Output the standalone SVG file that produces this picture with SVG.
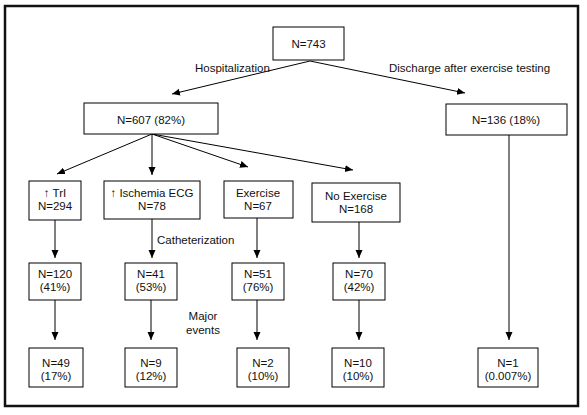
<svg xmlns="http://www.w3.org/2000/svg" width="587" height="415" viewBox="0 0 587 415">
<style>
  .box{fill:#fff;stroke:#000;stroke-width:1}
  .t{font-family:"Liberation Sans",Arial,sans-serif;font-size:11.5px;fill:#111;text-anchor:middle}
  .l{text-anchor:start}
  .c{fill:none;stroke:#000;stroke-width:1;marker-end:url(#ah)}
</style>
<defs>
  <marker id="ah" markerUnits="userSpaceOnUse" markerWidth="9" markerHeight="8" refX="8" refY="3.5" orient="auto">
    <path d="M0,0 L8,3.5 L0,7 z" fill="#000"/>
  </marker>
</defs>
<rect x="0" y="0" width="587" height="415" fill="#fff"/>
<rect x="5" y="6" width="573" height="400" fill="none" stroke="#111" stroke-width="2.5"/>

<g id="connectors">
  <path class="c" d="M310,61 L172,94"/>
  <path class="c" d="M310,61 L465,93"/>
  <path class="c" d="M152,134 L57,174"/>
  <path class="c" d="M152,134 L152,175"/>
  <path class="c" d="M152,134 L248,167"/>
  <path class="c" d="M152,134 L353,170"/>
  <path class="c" d="M55,220 L55,258"/>
  <path class="c" d="M152,219 L152,258"/>
  <path class="c" d="M257,218 L257,258"/>
  <path class="c" d="M359,222 L359,258"/>
  <path class="c" d="M55,300 L55,340"/>
  <path class="c" d="M151,300 L151,340"/>
  <path class="c" d="M257,300 L257,340"/>
  <path class="c" d="M359,300 L359,340"/>
  <path class="c" d="M509,135 L509,340"/>
  <text class="t l" x="195" y="72">Hospitalization</text>
  <text class="t l" x="389" y="72">Discharge after exercise testing</text>
  <text class="t l" x="157" y="244">Catheterization</text>
  <text class="t" x="203" y="320">Major</text>
  <text class="t" x="203" y="334">events</text>
</g>

<g id="n743"><rect class="box" x="273" y="27" width="71" height="33"/><text class="t" x="308.5" y="48">N=743</text></g>
<g id="n607"><rect class="box" x="84" y="103" width="134" height="31"/><text class="t" x="151" y="124">N=607 (82%)</text></g>
<g id="n136"><rect class="box" x="446" y="104" width="121" height="31"/><text class="t" x="506" y="124">N=136 (18%)</text></g>

<g id="tri"><rect class="box" x="29" y="181" width="52" height="39"/><text class="t" x="55" y="197">↑ TrI</text><text class="t" x="55" y="210">N=294</text></g>
<g id="isch"><rect class="box" x="104" y="181" width="96" height="38"/><text class="t" x="152" y="197">↑ Ischemia ECG</text><text class="t" x="152" y="210">N=78</text></g>
<g id="ex"><rect class="box" x="224" y="181" width="69" height="37"/><text class="t" x="258" y="197">Exercise</text><text class="t" x="258" y="210">N=67</text></g>
<g id="noex"><rect class="box" x="312" y="183" width="88" height="39"/><text class="t" x="356" y="200">No Exercise</text><text class="t" x="356" y="213">N=168</text></g>

<g id="n120"><rect class="box" x="29" y="263" width="52" height="37"/><text class="t" x="55" y="278">N=120</text><text class="t" x="55" y="291">(41%)</text></g>
<g id="n41"><rect class="box" x="125" y="263" width="52" height="37"/><text class="t" x="151" y="278">N=41</text><text class="t" x="151" y="291">(53%)</text></g>
<g id="n51"><rect class="box" x="232" y="263" width="52" height="37"/><text class="t" x="258" y="278">N=51</text><text class="t" x="258" y="291">(76%)</text></g>
<g id="n70"><rect class="box" x="333" y="263" width="52" height="37"/><text class="t" x="359" y="278">N=70</text><text class="t" x="359" y="291">(42%)</text></g>

<g id="n49"><rect class="box" x="29" y="348" width="54" height="39"/><text class="t" x="56" y="367">N=49</text><text class="t" x="56" y="380">(17%)</text></g>
<g id="n9"><rect class="box" x="125" y="348" width="52" height="39"/><text class="t" x="151" y="367">N=9</text><text class="t" x="151" y="380">(12%)</text></g>
<g id="n2"><rect class="box" x="237" y="348" width="52" height="39"/><text class="t" x="263" y="367">N=2</text><text class="t" x="263" y="380">(10%)</text></g>
<g id="n10"><rect class="box" x="332" y="348" width="52" height="39"/><text class="t" x="358" y="367">N=10</text><text class="t" x="358" y="380">(10%)</text></g>
<g id="n1"><rect class="box" x="478" y="348" width="60" height="39"/><text class="t" x="508" y="367">N=1</text><text class="t" x="508" y="380">(0.007%)</text></g>
</svg>
